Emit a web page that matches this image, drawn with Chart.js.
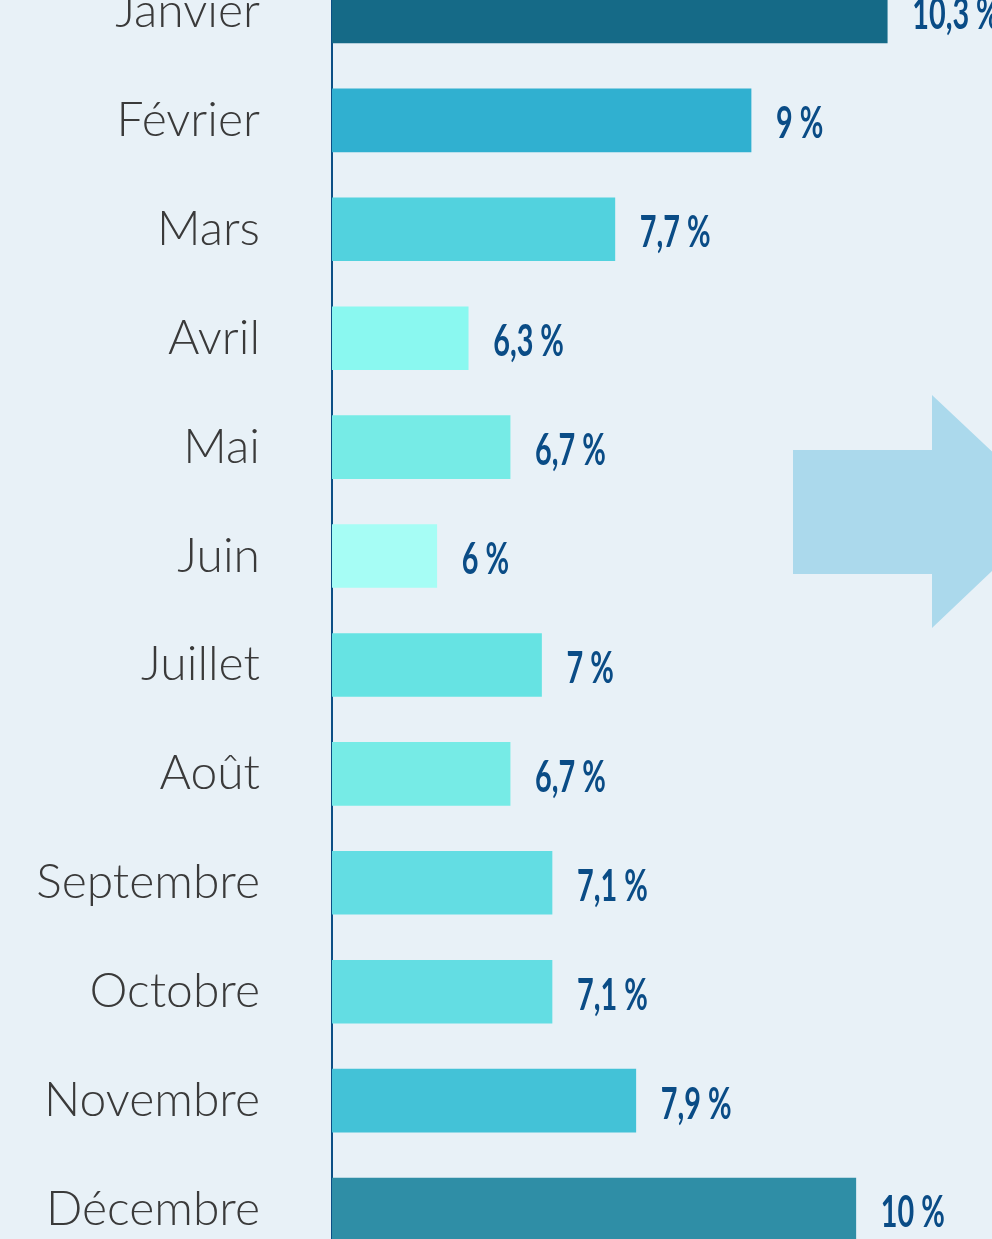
<!DOCTYPE html>
<html lang="fr">
<head>
<meta charset="utf-8">
<title>Répartition mensuelle</title>
<script src="https://cdn.jsdelivr.net/npm/chart.js@4.4.1/dist/chart.umd.min.js"></script>
<style>
	html, body {
		margin: 0;
		padding: 0;
		width: 992px;
		height: 1239px;
		overflow: hidden;
		background: #e8f1f7;
	}
	#wrap {
		position: absolute;
		left: 0;
		top: -143px;
		width: 992px;
		height: 1507px;
	}
	#arrow {
		position: absolute;
		left: 0;
		top: 0;
	}
</style>
</head>
<body>

<svg id="arrow" width="992" height="1239">
	<polygon points="793,450 932,450 932,395 1055,511 932,628 932,574 793,574" fill="#abd9ec"></polygon>
</svg>

<div id="wrap"><canvas id="chart" width="992" height="1507"></canvas></div>

<script>
// Months
const months = ['Janvier', 'Février', 'Mars', 'Avril', 'Mai', 'Juin', 'Juillet', 'Août', 'Septembre', 'Octobre', 'Novembre', 'Décembre'];

// Share of the year, in %
const shares = [10.3, 9, 7.7, 6.3, 6.7, 6, 7, 6.7, 7.1, 7.1, 7.9, 10];

// One colour per bar
const barColours = ['#156a87', '#30b0d0', '#52d2de', '#8af8f0', '#76ebe6', '#a6fdf5', '#66e3e3', '#76ebe6', '#63dde3', '#63dde3', '#43c2d7', '#2f8ea6'];

// Format a value the French way, i.e. 10,3 %
function formatShare (value)
{
	return String(value).replace('.', ',') + ' %';
}

// Plugin to write the value after each bar, in a condensed bold face
const valueLabels = {
	id: 'valueLabels',
	afterDatasetsDraw (chart) {
		const ctx = chart.ctx;
		const meta = chart.getDatasetMeta(0);
		ctx.save();
		ctx.fillStyle = '#0a4c86';
		ctx.font = 'bold 43px Lato, "Open Sans", sans-serif';
		ctx.textBaseline = 'middle';
		ctx.textAlign = 'left';
		meta.data.forEach((bar, i) => {
			ctx.save();
			ctx.translate(bar.x + 25, bar.y + 4);
			ctx.scale(0.67, 1);	// condense the glyphs
			ctx.fillText(formatShare(shares[i]), 0, 0);
			ctx.restore();
		});
		ctx.restore();
	}
};

new Chart(document.getElementById('chart').getContext('2d'), {
	type: 'bar',
	data: {
		labels: months,
		datasets: [{
			data: shares,
			backgroundColor: barColours,
			borderWidth: 0,
			barThickness: 63
		}]
	},
	options: {
		indexAxis: 'y',
		responsive: false,
		animation: false,
		layout: {
			padding: 0
		},
		plugins: {
			legend: {display: false},
			tooltip: {enabled: false}
		},
		scales: {
			x: {
				display: false,
				min: 5,
				max: 11.3
			},
			y: {
				afterFit: function (scale) {
					scale.width = 332;
					// the tick padding is also added above and below; fix it so the bands stay 109px
					scale.paddingTop = 100;
					scale.paddingBottom = 100;
				},
				grid: {
					display: false,
					drawTicks: false
				},
				border: {
					display: true,
					color: '#0b4f85',
					width: 2
				},
				ticks: {
					padding: 72,
					color: '#3a3a3a',
					font: {
						family: 'Lato, "Open Sans", sans-serif',
						size: 48,
						weight: 300
					}
				}
			}
		}
	},
	plugins: [valueLabels]
});
</script>
</body>
</html>
